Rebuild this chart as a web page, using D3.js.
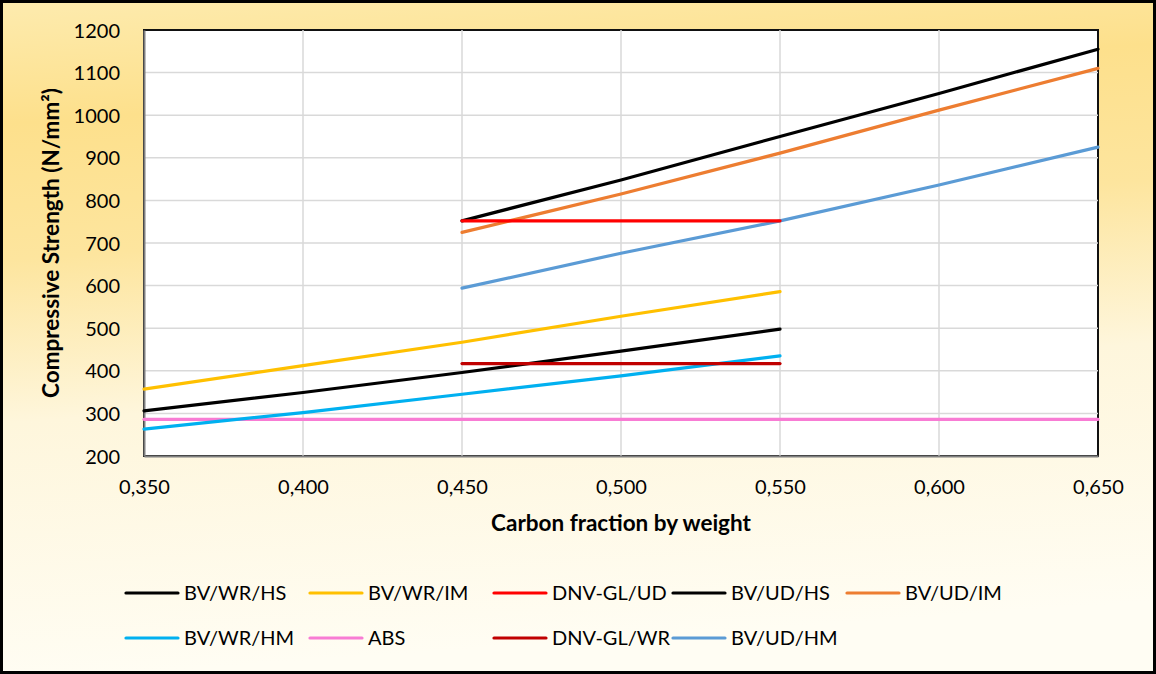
<!DOCTYPE html>
<html>
<head>
<meta charset="utf-8">
<script src="https://cdn.jsdelivr.net/npm/d3@7/dist/d3.min.js"></script>
<style>
  html, body { margin: 0; padding: 0; background: #fff; }
  svg { display: block; }
  text { font-family: Lato, "Open Sans", sans-serif; fill: #000; }
</style>
</head>
<body>
<svg id="chart" width="1156" height="674"></svg>
<script>
// Carbon fraction by weight for each family of curves
const wrCarbon  = [0.35, 0.40, 0.45, 0.50, 0.55];
const udCarbon  = [0.45, 0.50, 0.55, 0.60, 0.65];
const absCarbon = [0.35, 0.65];
const dnvCarbon = [0.45, 0.55];

// Compressive strength values (N/mm²)
const bvWrHs   = [306, 349, 396, 446, 498];
const bvWrIm   = [357, 412, 467, 528, 586];
const bvWrHm   = [263, 302, 345, 388, 435];
const dnvGlUd  = [752, 752];
const bvUdHs   = [752, 848, 950, 1051, 1155];
const bvUdIm   = [725, 815, 911, 1012, 1110];
const bvUdHm   = [594, 676, 752, 836, 925];
const absVals  = [286, 286];
const dnvGlWr  = [417, 417];

// Legend order (row by row) and colours
const seriesNames  = ["BV/WR/HS", "BV/WR/IM", "DNV-GL/UD", "BV/UD/HS", "BV/UD/IM",
                      "BV/WR/HM", "ABS", "DNV-GL/WR", "BV/UD/HM"];
const seriesColors = ["#000000", "#FFC000", "#FF0000", "#000000", "#ED7D31",
                      "#00B0F0", "#F87CD4", "#C00000", "#5B9BD5"];
const seriesX      = [wrCarbon, wrCarbon, dnvCarbon, udCarbon, udCarbon,
                      wrCarbon, absCarbon, dnvCarbon, udCarbon];
const seriesY      = [bvWrHs, bvWrIm, dnvGlUd, bvUdHs, bvUdIm,
                      bvWrHm, absVals, dnvGlWr, bvUdHm];

// Axis ticks
const xTicks = [0.35, 0.40, 0.45, 0.50, 0.55, 0.60, 0.65];
const yTicks = [200, 300, 400, 500, 600, 700, 800, 900, 1000, 1100, 1200];

const W = 1156, H = 674;
const plot = { left: 144, right: 1098, top: 30, bottom: 456 };

const svg = d3.select("#chart");
const defs = svg.append("defs");

// Warm vertical gradient for the chart background
const grad = defs.append("linearGradient")
  .attr("id", "bgGrad").attr("x1", 0).attr("y1", 0).attr("x2", 0.12).attr("y2", 1);
[["0%", "#FDEBAE"], ["18%", "#FDE08C"], ["38%", "#FDE59E"], ["62%", "#FEF6DC"], ["100%", "#FFFDF3"]]
  .forEach(([o, c]) => grad.append("stop").attr("offset", o).attr("stop-color", c));

svg.append("rect")
  .attr("x", 1.5).attr("y", 1.5).attr("width", W - 3).attr("height", H - 3)
  .attr("fill", "url(#bgGrad)").attr("stroke", "#000").attr("stroke-width", 3);

const x = d3.scaleLinear().domain([0.35, 0.65]).range([plot.left, plot.right]);
const y = d3.scaleLinear().domain([200, 1200]).range([plot.bottom, plot.top]);

// Plot area
svg.append("rect")
  .attr("x", plot.left).attr("y", plot.top)
  .attr("width", plot.right - plot.left).attr("height", plot.bottom - plot.top)
  .attr("fill", "#fff").attr("stroke", "#111").attr("stroke-width", 2);

// Gridlines
const grid = svg.append("g").attr("stroke", "#D9D9D9").attr("stroke-width", 1.5);
grid.selectAll("line.h").data(yTicks.slice(1, -1)).join("line")
  .attr("x1", plot.left).attr("x2", plot.right)
  .attr("y1", d => y(d)).attr("y2", d => y(d));
grid.selectAll("line.v").data(xTicks.slice(1, -1)).join("line")
  .attr("y1", plot.top).attr("y2", plot.bottom)
  .attr("x1", d => x(d)).attr("x2", d => x(d));

// Axes
const fmt = d => d3.format(".3f")(d).replace(".", ",");
const xAxis = svg.append("g").attr("transform", `translate(0,${plot.bottom})`)
  .call(d3.axisBottom(x).tickValues(xTicks).tickFormat(fmt).tickSize(0).tickPadding(26));
const yAxis = svg.append("g").attr("transform", `translate(${plot.left},0)`)
  .call(d3.axisLeft(y).tickValues(yTicks).tickFormat(d3.format("d")).tickSize(0).tickPadding(24));
[xAxis, yAxis].forEach(g => {
  g.select(".domain").attr("stroke", "#808080").attr("stroke-width", 2);
  g.selectAll("text").attr("font-size", 20).attr("fill", "#000")
    .style("font-family", "Lato, 'Open Sans', sans-serif");
});
xAxis.selectAll("text").attr("dy", 0).attr("y", 38);
yAxis.selectAll("text").attr("dy", "0.35em");

// Series lines
const line = d3.line().x(d => x(d[0])).y(d => y(d[1]));
const lines = svg.append("g").attr("fill", "none").attr("stroke-width", 3.2)
  .attr("stroke-linecap", "round").attr("stroke-linejoin", "round");
// draw in an order so the overlapping marks stack the same way
const drawOrder = [6, 5, 0, 1, 7, 8, 4, 3, 2];
drawOrder.forEach(i => {
  lines.append("path")
    .datum(seriesX[i].map((c, k) => [c, seriesY[i][k]]))
    .attr("stroke", seriesColors[i])
    .attr("d", line);
});

// Axis titles
svg.append("text")
  .attr("x", (plot.left + plot.right) / 2).attr("y", 531)
  .attr("text-anchor", "middle").attr("font-size", 22.5).attr("font-weight", 700)
  .text("Carbon fraction by weight");
svg.append("text")
  .attr("transform", `translate(59,${(plot.top + plot.bottom) / 2}) rotate(-90)`)
  .attr("text-anchor", "middle").attr("font-size", 22.5).attr("font-weight", 700)
  .text("Compressive Strength (N/mm²)");

// Legend: five columns, two rows
const legendCols = [126, 310, 494, 673, 847];
const legendRows = [593, 638];
const legend = svg.append("g");
seriesNames.forEach((name, i) => {
  const cx = legendCols[i % 5], cy = legendRows[Math.floor(i / 5)];
  const item = legend.append("g").attr("transform", `translate(${cx},${cy})`);
  item.append("line").attr("x1", 0).attr("x2", 52).attr("y1", 0).attr("y2", 0)
    .attr("stroke", seriesColors[i]).attr("stroke-width", 3.2).attr("stroke-linecap", "round");
  item.append("text").attr("x", 58).attr("y", 0).attr("dy", "0.36em")
    .attr("font-size", 20).text(name);
});
</script>
</body>
</html>
